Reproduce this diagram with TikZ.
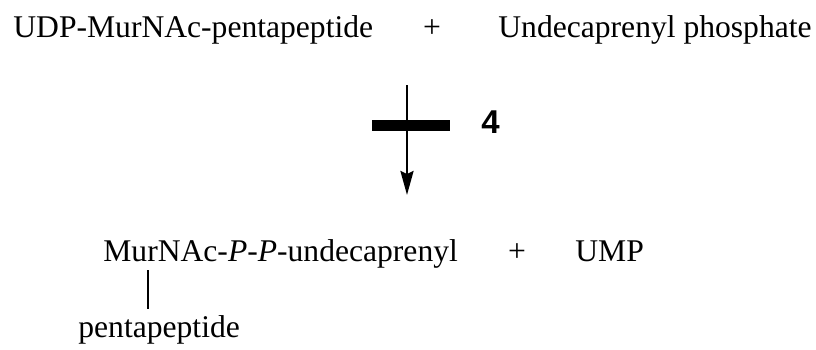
\documentclass[tikz,border=0pt]{standalone}
\usepackage{fontspec}
\setmainfont{Liberation Serif}[ItalicFont={Liberation Serif Italic}, BoldFont={Liberation Serif Bold}]
\newfontfamily\labelfont{Liberation Sans}[BoldFont={Liberation Sans Bold}]
\usetikzlibrary{arrows.meta, positioning}

\begin{document}
\begin{tikzpicture}[
  x=0.5pt, y=-0.5pt,
  compound/.style={inner sep=0pt, anchor=base west, font=\fontsize{15.8}{19}\selectfont},
  plus/.style={inner sep=0pt, anchor=base, font=\fontsize{15.8}{19}\selectfont},
  enzyme/.style={inner sep=0pt, anchor=base west, font=\labelfont\bfseries\fontsize{16.5}{19}\selectfont},
  block/.style={line width=5.5pt},
  bond/.style={line width=1.3pt}
]
  \useasboundingbox (0,0) rectangle (816,349);

  % Sustratos
  \node[compound] (udp) at (13,37) {UDP-MurNAc-pentapeptide};
  \node[plus] (plustop) at (432,37) {+};
  \node[compound] (lipid) at (498,37) {Undecaprenyl phosphate};

  % Reaccion bloqueada
  \coordinate (rxtop) at (407,85);
  \coordinate (rxend) at (407,195);
  \draw[bond, -{Stealth[length=12pt, width=6.5pt, inset=1.5pt]}] (rxtop) -- (rxend);
  \coordinate (barl) at (372,125.5);
  \coordinate (barr) at (450,125.5);
  \draw[block] (barl) -- (barr);
  \node[enzyme] (enz) at (481,133) {4};

  % Productos
  \node[compound] (lipidii) at (103,261) {MurNAc-\textit{P}-\textit{P}-undecaprenyl};
  \node[plus] (plusbot) at (517,261) {+};
  \node[compound] (ump) at (575,261) {UMP};
  \node[compound] (pep) at (78,337) {pentapeptide};

  \coordinate (link) at (148,270);
  \draw[bond, shorten >=3pt] (link) -- (link |- pep.north);

\end{tikzpicture}
\end{document}
